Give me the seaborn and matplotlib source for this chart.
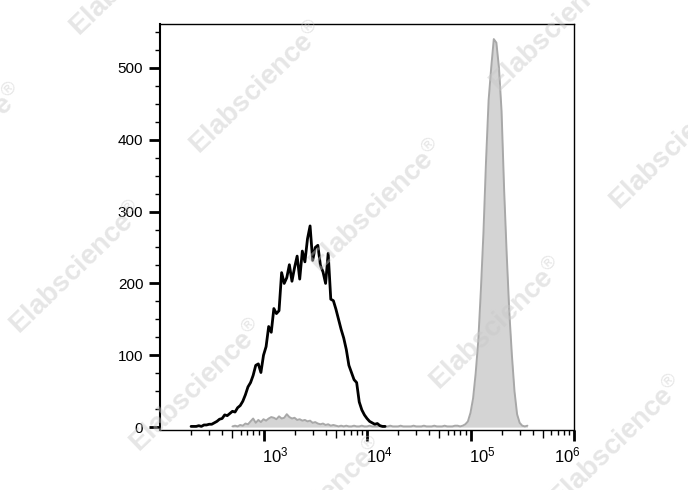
import numpy as np
import pandas as pd
import seaborn as sns
import matplotlib.pyplot as plt
from matplotlib.ticker import FixedLocator, LogLocator, NullFormatter, MultipleLocator
from matplotlib.transforms import ScaledTranslation

# 161-channel log histogram, channel centres in log10 units (2.0 .. 6.0)
log_channels = np.round(np.arange(2.0, 6.0001, 0.025), 3)

# unstained / isotype control (black outline)
black_counts = [
    0, 0, 0, 0, 0, 0, 0, 0, 0, 0,
    0, 0, 1, 1, 1, 2, 1, 3, 3, 4,
    4, 6, 8, 11, 12, 17, 16, 19, 22, 21,
    27, 30, 36, 45, 56, 62, 72, 86, 88, 76,
    100, 112, 140, 132, 165, 158, 162, 215, 200, 208,
    226, 203, 222, 238, 206, 245, 230, 262, 280, 232,
    250, 253, 225, 216, 200, 242, 178, 176, 164, 150,
    136, 124, 108, 86, 76, 66, 62, 35, 24, 17,
    12, 8, 6, 4, 5, 2, 1, 1, 0, 0,
    0, 0, 0, 0, 0, 0, 0, 0, 0, 0,
    0, 0, 0, 0, 0, 0, 0, 0, 0, 0,
    0, 0, 0, 0, 0, 0, 0, 0, 0, 0,
    0, 0, 0, 0, 0, 0, 0, 0, 0, 0,
    0, 0, 0, 0, 0, 0, 0, 0, 0, 0,
    0, 0, 0, 0, 0, 0, 0, 0, 0, 0,
    0, 0, 0, 0, 0, 0, 0, 0, 0, 0,
    0,
]

# stained sample (grey filled)
gray_counts = [
    0, 0, 0, 0, 0, 0, 0, 0, 0, 0,
    0, 0, 0, 0, 0, 0, 0, 0, 0, 0,
    0, 0, 0, 0, 0, 0, 0, 0, 1, 2,
    1, 3, 2, 5, 4, 8, 12, 6, 10, 7,
    11, 9, 12, 14, 13, 11, 15, 12, 13, 18,
    14, 12, 13, 10, 11, 9, 10, 8, 9, 6,
    7, 5, 4, 5, 3, 4, 2, 3, 2, 1,
    2, 1, 2, 1, 1, 2, 1, 1, 2, 1,
    1, 2, 1, 1, 1, 2, 1, 1, 1, 2,
    1, 1, 1, 2, 1, 1, 1, 1, 2, 1,
    1, 1, 2, 1, 1, 1, 2, 1, 1, 1,
    2, 1, 1, 1, 2, 2, 1, 2, 4, 8,
    20, 40, 75, 120, 190, 270, 370, 455, 500, 540,
    535, 500, 440, 330, 240, 160, 100, 50, 18, 6,
    2, 1, 2, 0, 0, 0, 0, 0, 0, 0,
    0, 0, 0, 0, 0, 0, 0, 0, 0, 0,
    0,
]

x_tick_values = [1e3, 1e4, 1e5, 1e6]
x_tick_labels = ["$10^{3}$", "$10^{4}$", "$10^{5}$", "$10^{6}$"]
y_tick_values = [0, 100, 200, 300, 400, 500]

sns.set_style("ticks")
plt.rcParams["font.family"] = ["Liberation Sans", "DejaVu Sans"]
plt.rcParams["mathtext.fontset"] = "custom"
plt.rcParams["mathtext.rm"] = "Liberation Sans"
plt.rcParams["mathtext.it"] = "Liberation Sans:italic"
plt.rcParams["mathtext.bf"] = "Liberation Sans:bold"

df = pd.DataFrame({"fl": 10 ** log_channels, "black": black_counts, "gray": gray_counts})

fig = plt.figure(figsize=(6.88, 4.9), dpi=100)
ax = fig.add_axes([160 / 688, 1 - 430 / 490, 414 / 688, 406 / 490])

gray_part = df[df["gray"] > 0]
ax.fill_between(gray_part["fl"], 0, gray_part["gray"], color="#d4d4d4", linewidth=0, zorder=1)
sns.lineplot(data=gray_part, x="fl", y="gray", color="#a8a8a8", linewidth=1.4, ax=ax, zorder=2)

black_part = df[df["black"] > 0]
sns.lineplot(data=black_part, x="fl", y="black", color="black", linewidth=2, ax=ax, zorder=3)

ax.set_xscale("log")
ax.set_xlim(100, 1e6)
ax.set_ylim(-4, 561)
ax.set_xlabel("")
ax.set_ylabel("")

ax.xaxis.set_major_locator(FixedLocator(x_tick_values))
ax.set_xticklabels(x_tick_labels)
ax.xaxis.set_minor_locator(LogLocator(base=10, subs=np.arange(2, 10), numticks=20))
ax.xaxis.set_minor_formatter(NullFormatter())
ax.set_yticks(y_tick_values)
ax.yaxis.set_minor_locator(MultipleLocator(25))

ax.tick_params(which="major", direction="out", length=8, width=2, color="black", labelcolor="black")
ax.tick_params(which="minor", direction="out", length=3.5, width=1, color="black")
ax.tick_params(axis="y", which="major", labelsize=11, pad=4)
ax.tick_params(axis="x", which="major", labelsize=12, pad=3)

for side in ["top", "right", "bottom"]:
    ax.spines[side].set_linewidth(1)
    ax.spines[side].set_color("black")
ax.spines["left"].set_linewidth(1.5)
ax.spines["left"].set_color("black")

# the 5x ticks are a bit longer
minor_locs = ax.xaxis.get_minorticklocs()
for loc, tick in zip(minor_locs, ax.xaxis.get_minor_ticks(len(minor_locs))):
    if round(loc / 10 ** np.floor(np.log10(loc) + 1e-9)) == 5:
        tick.tick1line.set_markersize(6)

# decade labels sit a little off their ticks
for lab, dx in zip(ax.get_xticklabels(), [12, 12, 12, -7]):
    lab.set_transform(lab.get_transform() + ScaledTranslation(dx / 100, 0, fig.dpi_scale_trans))

# watermark
for cx, cy in [(137, -30), (257, 88), (377, 206), (497, 324), (617, 442),
               (-43, 150), (77, 268), (197, 386), (317, 504),
               (557, 26), (677, 144)]:
    fig.text(cx / 688, 1 - cy / 490, "Elabscience$^{®}$", rotation=44,
             rotation_mode="anchor", ha="center", va="center",
             fontsize=20, fontweight="bold", color="#c8c8c8", alpha=0.45, zorder=10)

fig.savefig("out.png", dpi=100)
